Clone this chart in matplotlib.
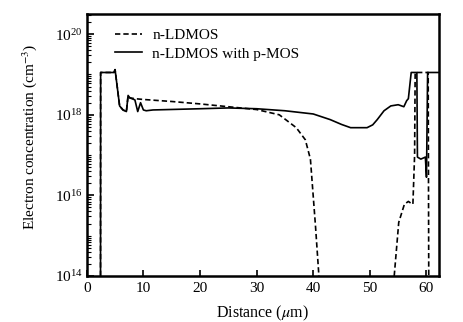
import numpy as np
import matplotlib
matplotlib.use("Agg")
import matplotlib.pyplot as plt
from matplotlib.ticker import LogLocator, LogFormatterMathtext, NullFormatter, FixedLocator

plt.rcParams['font.family'] = ['Liberation Serif', 'DejaVu Serif']
plt.rcParams['mathtext.fontset'] = 'stix'

# Electron concentration profiles along the drift region (log10 of cm^-3)
x_ldmos = [2.43, 2.45, 4.8, 5.0, 5.8, 6.4, 7.0, 7.3, 7.6, 8.5, 10.0, 15.0, 20.0, 25.0,
           30.0, 34.0, 37.0, 38.6, 39.5, 40.4, 41.0,
           np.nan,
           54.3, 55.1, 56.1, 56.8, 57.3, 57.6, 57.9, 58.0, 60.3, 60.4]
logn_ldmos = [14.0, 19.05, 19.05, 19.12, 18.22, 18.12, 18.08, 18.48, 18.42, 18.40, 18.38, 18.33, 18.27, 18.20,
              18.13, 18.00, 17.68, 17.38, 16.90, 15.23, 14.0,
              np.nan,
              14.0, 15.33, 15.78, 15.85, 15.80, 15.78, 17.0, 19.05, 19.05, 14.0]

x_pmos = [2.43, 2.45, 4.8, 5.0, 5.8, 6.4, 7.0, 7.3, 7.6, 8.5, 9.0, 9.5, 10.0, 10.5, 11.7,
          20.0, 25.0, 30.0, 35.0, 40.0, 43.0, 45.0, 46.6, 49.5, 50.5, 51.3, 52.5, 53.7,
          55.0, 56.0, 56.5, 56.8, 57.3, 58.3, 58.4, 59.0, 59.8, 60.0, 60.2, 62.5]
logn_pmos = [14.0, 19.05, 19.05, 19.12, 18.22, 18.12, 18.08, 18.48, 18.42, 18.37, 18.08, 18.30, 18.12, 18.10, 18.12,
             18.15, 18.17, 18.15, 18.10, 18.02, 17.88, 17.76, 17.68, 17.68, 17.75, 17.88, 18.10, 18.22,
             18.25, 18.20, 18.35, 18.40, 19.05, 19.05, 16.95, 16.90, 16.95, 16.45, 19.05, 19.05]

n_ldmos = np.power(10.0, np.array(logn_ldmos, dtype=float))
n_pmos = np.power(10.0, np.array(logn_pmos, dtype=float))

fig = plt.figure(figsize=(4.64, 3.22), dpi=100)
ax = fig.add_axes([0.187, 0.143, 0.759, 0.814])

ax.plot(x_ldmos, n_ldmos, color='black', lw=1.2, ls=(0, (3.2, 1.8)), label='n-LDMOS')
ax.plot(x_pmos, n_pmos, color='black', lw=1.2, ls='-', label='n-LDMOS with p-MOS')

ax.set_yscale('log')
ax.set_xlim(0, 62.2)
ax.set_ylim(1e14, 3.2e20)

ax.yaxis.set_major_locator(LogLocator(base=100.0))
ax.yaxis.set_major_formatter(LogFormatterMathtext(base=10.0))
ax.yaxis.set_minor_locator(LogLocator(base=10.0, subs=np.arange(1, 10), numticks=40))
ax.yaxis.set_minor_formatter(NullFormatter())
ax.xaxis.set_major_locator(FixedLocator([0, 10, 20, 30, 40, 50, 60]))

ax.tick_params(axis='both', which='both', direction='in', top=False, right=False, labelsize=11)
ax.tick_params(axis='y', which='major', length=5, width=1.2, pad=3)
ax.tick_params(axis='y', which='minor', length=3, width=0.8)
ax.tick_params(axis='x', which='major', length=4, width=1.2, pad=4)

for s in ax.spines.values():
    s.set_linewidth(1.8)

ax.set_xlabel(r'Distance ($\mu$m)', fontsize=11.5)
ax.set_ylabel(r'Electron concentration (cm$^{-3}$)', fontsize=11)
ax.xaxis.set_label_coords(0.50, -0.105)
ax.yaxis.set_label_coords(-0.135, 0.53)

ax.legend(loc='upper left', bbox_to_anchor=(0.08, 0.944), frameon=False, fontsize=11,
          handlelength=1.8, handletextpad=0.65, labelspacing=0.32, borderaxespad=0.0,
          borderpad=0.0)

fig.savefig('out.png', dpi=100)
